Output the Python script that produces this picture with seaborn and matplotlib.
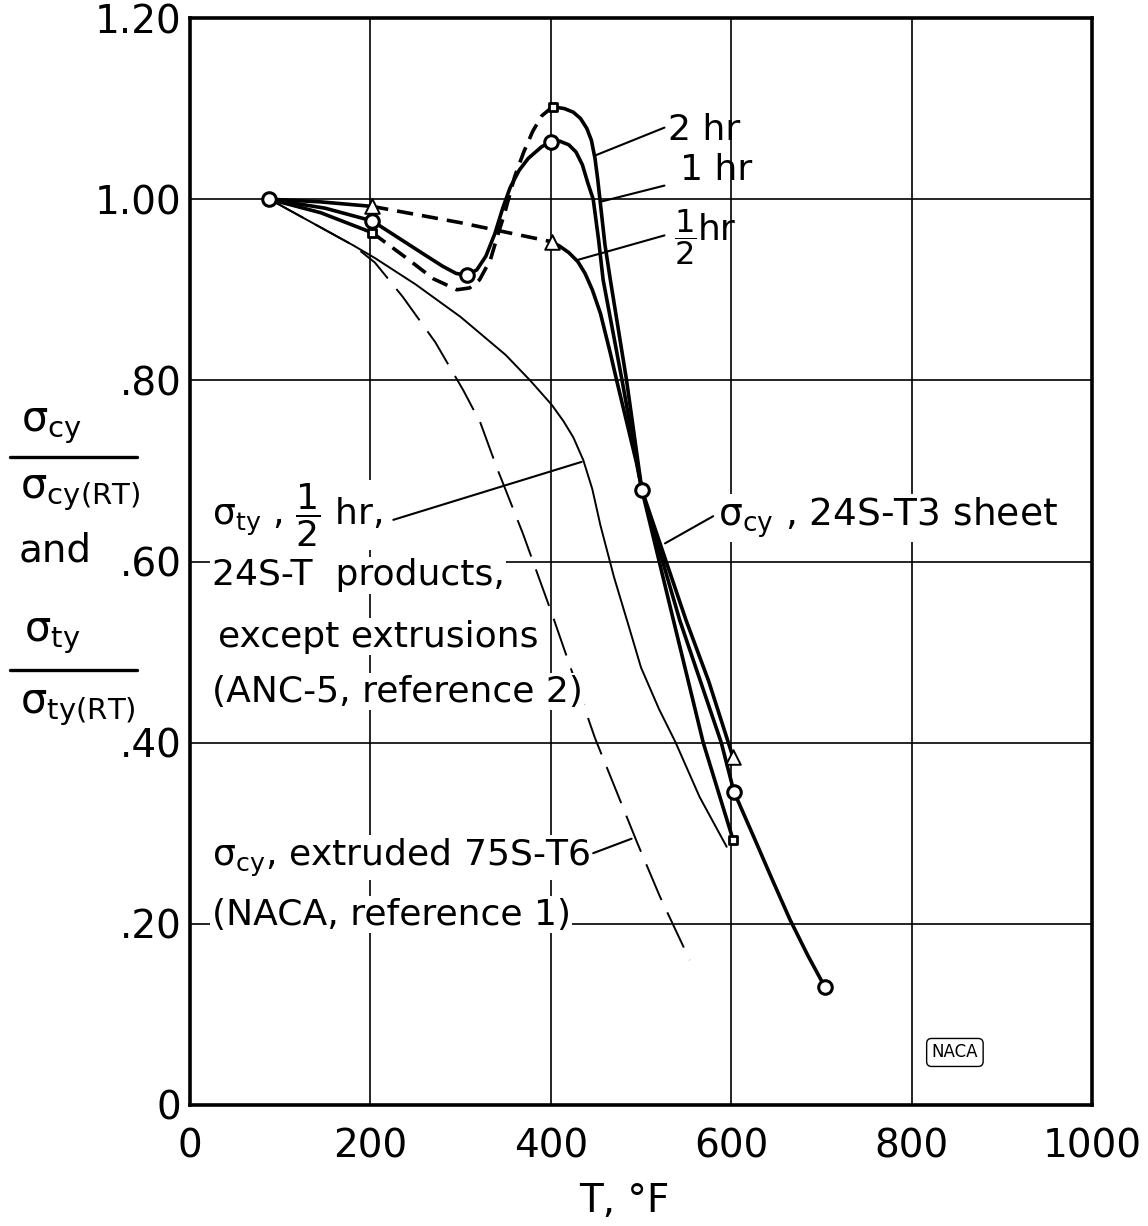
import matplotlib
matplotlib.use("Agg")
import matplotlib.pyplot as plt
import seaborn as sns

# values: T in deg F, ratio to the room temperature value

# sigma_cy, 24S-T3 sheet, 1 hr exposure (circles)
one_hr_T = [88, 150, 202, 230, 258, 280, 295, 307, 318, 328, 338, 347, 355, 365, 375,
            390, 400, 410, 420, 428, 435, 441, 447, 453, 458, 479, 501, 543, 589, 603,
            625, 645, 665, 685, 704]
one_hr_r = [1.00, 0.990, 0.976, 0.958, 0.940, 0.926, 0.918, 0.916, 0.922, 0.937, 0.962,
            0.991, 1.013, 1.032, 1.045, 1.058, 1.063, 1.064, 1.060, 1.052, 1.038, 1.018,
            1.000, 0.955, 0.911, 0.800, 0.679, 0.535, 0.400, 0.346, 0.296, 0.250, 0.205,
            0.165, 0.130]
one_hr_pts_T = [88, 202, 307, 400, 501, 603, 704]
one_hr_pts_r = [1.00, 0.976, 0.916, 1.063, 0.679, 0.346, 0.130]

# 2 hr exposure (squares): solid, dashed part between 200 and 400, solid again
two_hr_a_T = [88, 145, 202]
two_hr_a_r = [1.00, 0.985, 0.963]
two_hr_dash_T = [202, 240, 270, 296, 310, 321, 333, 342, 349, 360, 370, 380, 390, 402]
two_hr_dash_r = [0.963, 0.935, 0.912, 0.900, 0.902, 0.911, 0.933, 0.963, 0.985, 1.025,
                 1.052, 1.075, 1.092, 1.102]
two_hr_b_T = [402, 415, 425, 433, 440, 445, 449, 452, 455, 460, 466, 484, 501, 536, 569, 602]
two_hr_b_r = [1.102, 1.100, 1.096, 1.089, 1.078, 1.065, 1.045, 1.022, 0.995, 0.950,
              0.911, 0.800, 0.679, 0.535, 0.400, 0.293]
two_hr_pts_T = [202, 402, 602]
two_hr_pts_r = [0.963, 1.102, 0.293]

# 1/2 hr exposure (triangles)
half_hr_a_T = [88, 145, 202]
half_hr_a_r = [1.00, 0.997, 0.992]
half_hr_dash_T = [202, 300, 401]
half_hr_dash_r = [0.992, 0.974, 0.953]
half_hr_b_T = [401, 410, 420, 430, 438, 446, 455, 466, 473, 495, 501, 550, 575, 602]
half_hr_b_r = [0.953, 0.948, 0.941, 0.931, 0.918, 0.900, 0.874, 0.830, 0.800, 0.709,
               0.679, 0.535, 0.468, 0.384]
half_hr_pts_T = [202, 401, 602]
half_hr_pts_r = [0.992, 0.953, 0.384]

# sigma_ty, 1/2 hr, 24S-T products (ANC-5), thin solid
anc_T = [88, 181, 205, 250, 300, 350, 377, 401, 414, 425, 436, 446, 455, 470, 486, 500,
         520, 538, 565, 595]
anc_r = [1.00, 0.949, 0.935, 0.906, 0.870, 0.828, 0.800, 0.773, 0.755, 0.737, 0.712,
         0.680, 0.640, 0.583, 0.530, 0.483, 0.437, 0.401, 0.340, 0.285]

# sigma_cy, extruded 75S-T6 (NACA), long dashes
ext_T = [88, 181, 205, 236, 272, 303, 322, 340, 369, 401, 449, 496, 521, 554]
ext_r = [1.00, 0.949, 0.930, 0.892, 0.842, 0.789, 0.753, 0.704, 0.631, 0.543, 0.405,
         0.289, 0.230, 0.160]

x_ticks = [0, 200, 400, 600, 800, 1000]
x_labels = ["0", "200", "400", "600", "800", "1000"]
y_ticks = [0, 0.2, 0.4, 0.6, 0.8, 1.0, 1.2]
y_labels = ["0", ".20", ".40", ".60", ".80", "1.00", "1.20"]

sns.set_theme(style="white")
plt.rcParams["font.family"] = ["DejaVu Sans"]
plt.rcParams["mathtext.fontset"] = "dejavusans"
plt.rcParams["text.color"] = "black"
plt.rcParams["axes.labelcolor"] = "black"

W, H = 1148, 1226
fig = plt.figure(figsize=(W / 100, H / 100), dpi=100)
ax = fig.add_axes([190 / W, 1 - 1105 / H, 902 / W, 1087 / H])

thick = 2.6
thin = 1.4
short_dash = (0, (4.5, 2.5))
long_dash = (0, (20, 7))

for T, r, ls in [(one_hr_T, one_hr_r, "-"),
                 (two_hr_a_T, two_hr_a_r, "-"),
                 (two_hr_dash_T, two_hr_dash_r, short_dash),
                 (two_hr_b_T, two_hr_b_r, "-"),
                 (half_hr_a_T, half_hr_a_r, "-"),
                 (half_hr_dash_T, half_hr_dash_r, short_dash),
                 (half_hr_b_T, half_hr_b_r, "-")]:
    sns.lineplot(x=T, y=r, sort=False, estimator=None, color="black",
                 linewidth=thick, linestyle=ls, ax=ax, zorder=3)

sns.lineplot(x=anc_T, y=anc_r, sort=False, estimator=None, color="black",
             linewidth=thin, ax=ax, zorder=3)
sns.lineplot(x=ext_T, y=ext_r, sort=False, estimator=None, color="black",
             linewidth=thin, linestyle=long_dash, ax=ax, zorder=3)

# measured points, open symbols
sns.scatterplot(x=one_hr_pts_T, y=one_hr_pts_r, marker="o", s=95, color="white",
                edgecolor="black", linewidth=2.2, ax=ax, zorder=5)
sns.scatterplot(x=two_hr_pts_T, y=two_hr_pts_r, marker="s", s=40, color="white",
                edgecolor="black", linewidth=2.0, ax=ax, zorder=5)
sns.scatterplot(x=half_hr_pts_T, y=half_hr_pts_r, marker="^", s=110, color="white",
                edgecolor="black", linewidth=1.4, ax=ax, zorder=5)

ax.set_xlim(0, 1000)
ax.set_ylim(0, 1.2)
ax.set_xticks(x_ticks)
ax.set_xticklabels(x_labels)
ax.set_yticks(y_ticks)
ax.set_yticklabels(y_labels)
ax.tick_params(axis="both", length=0, labelsize=28, colors="black")
ax.tick_params(axis="x", pad=16)
ax.tick_params(axis="y", pad=6)
ax.grid(True, color="black", linewidth=1.2)
ax.set_axisbelow(True)
for sp in ax.spines.values():
    sp.set_color("black")
    sp.set_linewidth(2.6)

ax.set_xlabel("T, °F", fontsize=28, color="black")
ax.xaxis.set_label_coords(0.482, -0.071)
ax.set_ylabel("")

# labels on the curves
fs = 26
box = dict(facecolor="white", edgecolor="none", pad=1)
ax.text(530, 1.076, "2 hr", fontsize=fs, va="center", ha="left")
ax.text(543, 1.032, "1 hr", fontsize=fs, va="center", ha="left")
ax.text(549, 0.958, r"$\dfrac{1}{2}$", fontsize=fs - 3, va="center", ha="center")
ax.text(563, 0.966, "hr", fontsize=fs, va="center", ha="left")

leaders = [((448.6, 1.048), (526, 1.079)),
           ((454.5, 0.997), (526, 1.015)),
           ((430.0, 0.933), (526, 0.960)),
           ((225.4, 0.646), (434.2, 0.710)),
           ((526.6, 0.620), (580.0, 0.650)),
           ((447.0, 0.278), (489.6, 0.294))]
for (x0, y0), (x1, y1) in leaders:
    ax.plot([x0, x1], [y0, y1], color="black", linewidth=1.5, zorder=4)

ax.text(24, 0.651, r"σ$_{\mathrm{ty}}$ , $\dfrac{1}{2}$ hr,", fontsize=fs,
        va="center", ha="left", bbox=box, zorder=4)
ax.text(24, 0.585, "24S-T  products,", fontsize=fs, va="center", ha="left", bbox=box, zorder=4)
ax.text(31, 0.517, "except extrusions", fontsize=fs, va="center", ha="left", bbox=box, zorder=4)
ax.text(24, 0.456, "(ANC-5, reference 2)", fontsize=fs, va="center", ha="left", bbox=box, zorder=4)
ax.text(24, 0.273, r"σ$_{\mathrm{cy}}$, extruded 75S-T6", fontsize=fs,
        va="center", ha="left", bbox=box, zorder=4)
ax.text(24, 0.210, "(NACA, reference 1)", fontsize=fs, va="center", ha="left", bbox=box, zorder=4)
ax.text(585, 0.648, r"σ$_{\mathrm{cy}}$ , 24S-T3 sheet", fontsize=fs + 1,
        va="center", ha="left", bbox=box, zorder=4)

ax.text(848, 0.058, "NACA", fontsize=12, ha="center", va="center",
        bbox=dict(facecolor="white", edgecolor="black", boxstyle="round,pad=0.3", lw=1))

# y label: two stacked fractions with "and" between them
def fxy(px, py):
    return px / W, 1 - py / H

yfs = 30
fig.text(*fxy(52, 425), r"σ$_{\mathrm{cy}}$", fontsize=yfs, ha="center", va="center")
fig.text(*fxy(80, 492), r"σ$_{\mathrm{cy(RT)}}$", fontsize=yfs, ha="center", va="center")
fig.text(*fxy(55, 550), "and", fontsize=28, ha="center", va="center")
fig.text(*fxy(52, 635), r"σ$_{\mathrm{ty}}$", fontsize=yfs, ha="center", va="center")
fig.text(*fxy(78, 707), r"σ$_{\mathrm{ty(RT)}}$", fontsize=yfs, ha="center", va="center")
for y in (457, 670):
    x0, yy = fxy(10, y)
    x1, _ = fxy(137, y)
    fig.add_artist(plt.Line2D([x0, x1], [yy, yy], color="black", linewidth=2.4))

fig.savefig("out.png", dpi=100, facecolor="white")
